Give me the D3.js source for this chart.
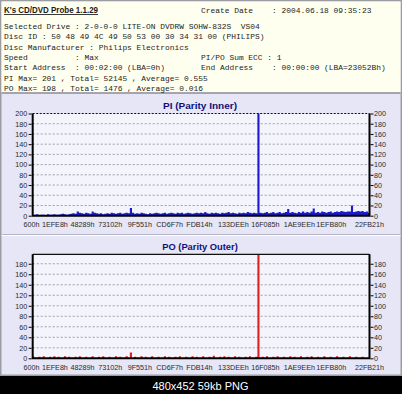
<!DOCTYPE html>
<html>
<head>
<meta charset="utf-8">
<script src="https://cdn.jsdelivr.net/npm/d3@7"></script>
<style>
  body { margin: 0; background: #000; }
  svg { display: block; }
  text.mono { font-family: "Liberation Mono", "Courier New", monospace; font-size: 7.9px; fill: #1c1c1c; white-space: pre; }
  .tick text { font-family: "Liberation Sans", Arial, sans-serif; font-size: 7.2px; fill: #2a2a2a; }
</style>
</head>
<body>
<div id="drawing_region"></div>
<script>
// header info lines (monospace, as in the probe window)
const headerLeft = [
    "Selected Drive : 2-0-0-0 LITE-ON DVDRW SOHW-832S  VS04",
    "Disc ID : 50 48 49 4C 49 50 53 00 30 34 31 00 (PHILIPS)",
    "Disc Manufacturer : Philips Electronics",
    "Speed          : Max",
    "Start Address  : 00:02:00 (LBA=0h)",
    "PI Max= 201 , Total= 52145 , Average= 0.555",
    "PO Max= 198 , Total= 1476 , Average= 0.016"
];
const headerRight = [
    "Create Date    : 2004.06.18 09:35:23",
    "", "", "",
    "PI/PO Sum ECC : 1",
    "End Address    : 00:00:00 (LBA=23052Bh)"
];

// x axis: address labels and the sample index where each one sits
const xTickLabels = ["600h","1EFE8h","48289h","73102h","9F551h","CD6F7h","FDB14h","133DEEh","16F085h","1AE9EEh","1EFB80h","22FB21h"];
const xTickSamples = [0, 11, 24, 37, 51, 65, 79, 95, 110, 126, 141, 159];

const piTicks = [0, 20, 40, 60, 80, 100, 120, 140, 160, 180, 200];
const poTicks = [0, 20, 40, 60, 80, 100, 120, 140, 160, 180];
const piScaleMax = 200;
const poScaleMax = 198;

// PI per sample
const piValues = [
    2,1,2,3,1,2,2,1,3,2,
    2,3,2,2,3,4,3,2,3,4,
    5,4,8,6,5,4,6,5,4,8,
    6,5,4,5,3,4,5,4,6,5,
    4,5,6,4,5,6,5,15,6,4,
    5,4,6,5,4,3,5,4,5,6,
    5,4,5,6,4,5,6,5,4,6,
    5,6,4,5,6,5,4,5,6,5,
    6,5,7,5,4,6,5,6,5,4,
    6,5,6,7,5,6,5,4,6,5,
    6,5,7,6,5,6,5,201,6,5,
    6,7,5,6,7,5,6,7,5,6,
    7,13,6,7,6,5,7,6,8,6,
    7,6,8,14,6,7,6,8,7,6,
    7,8,6,7,8,7,9,8,7,8,
    8,20,7,8,9,8,9,7,8,6
];

// PO per sample
const poValues = [
    0,4,0,0,3,0,4,0,0,3,
    0,4,0,3,0,0,4,0,3,0,
    0,3,0,4,0,0,3,0,0,4,
    0,0,3,0,4,0,0,3,0,0,
    4,0,3,0,0,4,0,11,0,3,
    0,0,4,0,3,0,0,4,0,0,
    3,0,0,4,0,3,0,0,3,0,
    4,0,0,3,0,0,4,0,3,0,
    0,4,0,0,3,0,5,0,0,3,
    0,4,0,3,0,0,4,0,3,0,
    0,3,0,4,0,0,3,198,0,3,
    0,4,0,0,3,0,4,0,0,3,
    0,0,4,0,3,0,0,4,0,0,
    3,0,4,0,0,3,0,0,4,0,
    0,3,0,0,4,0,0,3,0,0,
    4,0,0,3,0,0,3,0,0,0
];

const W = 402, H = 394;

const svg = d3.select('#drawing_region')
    .append('svg')
    .attr('width', W)
    .attr('height', H);

// black band + caption below the screenshot
svg.append('rect').attr('width', W).attr('height', H).attr('fill', '#000');
svg.append('text')
    .attr('x', 200.5).attr('y', 389.5)
    .attr('text-anchor', 'middle')
    .attr('fill', '#fff')
    .style('font-family', '"Liberation Sans", Arial, sans-serif')
    .style('font-size', '11px')
    .text('480x452 59kb PNG');

// window frame
svg.append('rect').attr('x', 0).attr('y', 0).attr('width', W).attr('height', 376).attr('fill', '#9c9ca4');
svg.append('rect').attr('x', 1.5).attr('y', 1.5).attr('width', W - 3).attr('height', 373).attr('fill', '#e6e6f6');

// header panel
svg.append('rect').attr('x', 1.5).attr('y', 1.5).attr('width', W - 3).attr('height', 91).attr('fill', '#fffff0');
svg.append('line').attr('x1', 1.5).attr('x2', W - 1.5).attr('y1', 93).attr('y2', 93)
    .attr('stroke', '#8c8c94').attr('stroke-width', 1.5);

svg.append('text')
    .attr('x', 4).attr('y', 13)
    .attr('textLength', 94).attr('lengthAdjust', 'spacingAndGlyphs')
    .attr('fill', '#1a1a1a')
    .style('font-family', '"Liberation Sans", Arial, sans-serif')
    .style('font-size', '8.6px')
    .style('font-weight', 'bold')
    .style('text-decoration', 'underline')
    .text("K's CD/DVD Probe 1.1.29");

const rowY = d3.scaleLinear().domain([0, 1]).range([29, 39.3]);

svg.append('text').attr('class', 'mono').attr('x', 201).attr('y', 13).text(headerRight[0]);
svg.selectAll('text.left')
    .data(headerLeft)
    .join('text')
    .attr('class', 'mono left')
    .attr('x', 4)
    .attr('y', (d, i) => rowY(i))
    .text(d => d);
svg.selectAll('text.right')
    .data(headerRight.slice(1))
    .join('text')
    .attr('class', 'mono right')
    .attr('x', 201)
    .attr('y', (d, i) => rowY(i))
    .text(d => d);

// separator between the two graph panels
svg.append('line').attr('x1', 1.5).attr('x2', W - 1.5).attr('y1', 234.5).attr('y2', 234.5).attr('stroke', '#b4b4c4');
svg.append('line').attr('x1', 1.5).attr('x2', W - 1.5).attr('y1', 235.5).attr('y2', 235.5).attr('stroke', '#fff');

class ProbeChart {

    constructor( config, values ) {
        this.config = config;
        this.values = values;
        this.init();
    }

    init() {
        let self = this;
        const c = self.config;

        self.chart = svg.append('g');

        self.left = 32.7;
        self.right = 369.5;
        self.bottom = c.top + c.height;

        // first sample sits just behind the left frame
        self.xscale = d3.scaleLinear()
            .domain([0, self.values.length - 1])
            .range([31, 369]);

        self.yscale = d3.scaleLinear()
            .domain([0, c.ymax])
            .range([self.bottom, c.top]);

        self.chart.append('clipPath')
            .attr('id', c.id + '_clip')
            .append('rect')
            .attr('x', self.left).attr('y', c.top)
            .attr('width', self.right - self.left)
            .attr('height', c.height);
    }

    render() {
        let self = this;
        const c = self.config;

        // title
        self.chart.append('text')
            .attr('x', 200).attr('y', c.titleY)
            .attr('text-anchor', 'middle')
            .attr('textLength', c.titleWidth).attr('lengthAdjust', 'spacingAndGlyphs')
            .attr('fill', '#10107a')
            .style('font-family', '"Liberation Sans", Arial, sans-serif')
            .style('font-size', '8.8px')
            .style('font-weight', 'bold')
            .text(c.title);

        // plot background
        self.chart.append('rect')
            .attr('x', self.left).attr('y', c.top)
            .attr('width', self.right - self.left)
            .attr('height', c.height)
            .attr('fill', '#f4f4fd');

        // grid
        self.chart.selectAll('line.grid')
            .data(c.yticks.filter(d => d > 0 && d < c.ymax))
            .join('line')
            .attr('class', 'grid')
            .attr('x1', self.left).attr('x2', self.right)
            .attr('y1', d => self.yscale(d)).attr('y2', d => self.yscale(d))
            .attr('stroke', '#8a8a8a')
            .attr('stroke-width', 0.8)
            .attr('stroke-dasharray', '2,2');

        // series as a stepped area, one step per sample
        const area = d3.area()
            .x((d, i) => self.xscale(i))
            .y0(self.yscale(0))
            .y1(d => self.yscale(d))
            .curve(d3.curveStep);

        self.chart.append('path')
            .datum(self.values)
            .attr('clip-path', `url(#${c.id}_clip)`)
            .attr('d', area)
            .attr('fill', c.color);

        // frame
        self.chart.append('line')
            .attr('x1', self.left).attr('x2', self.right)
            .attr('y1', c.top).attr('y2', c.top)
            .attr('stroke', '#111')
            .attr('stroke-width', 1.2)
            .attr('stroke-dasharray', c.topDash);
        self.chart.append('path')
            .attr('d', `M${self.left},${c.top}V${self.bottom}H${self.right}V${c.top}`)
            .attr('fill', 'none')
            .attr('stroke', '#000')
            .attr('stroke-width', 2);

        // y axes on both sides
        const yl = d3.axisLeft(self.yscale).tickValues(c.yticks).tickSize(3).tickPadding(1.5);
        const yr = d3.axisRight(self.yscale).tickValues(c.yticks).tickSize(3).tickPadding(0.5);

        self.chart.append('g')
            .attr('transform', `translate(${self.left - 1}, 0)`)
            .call(yl)
            .call(g => g.select('.domain').remove());
        self.chart.append('g')
            .attr('transform', `translate(${self.right + 1}, 0)`)
            .call(yr)
            .call(g => g.select('.domain').remove());

        // x axis with address labels
        const xa = d3.axisBottom(self.xscale)
            .tickValues(xTickSamples)
            .tickFormat((d, i) => xTickLabels[i])
            .tickSize(0)
            .tickPadding(6.5);

        self.chart.append('g')
            .attr('transform', `translate(0, ${self.bottom})`)
            .call(xa)
            .call(g => g.select('.domain').remove());
    }
}

const piChart = new ProbeChart({
    id: 'pi', title: 'PI (Parity Inner)', titleY: 108.5, titleWidth: 74,
    top: 113.5, height: 102.2, ymax: piScaleMax, yticks: piTicks,
    color: '#1a1ad0', topDash: '2,1.5'
}, piValues);
piChart.render();

const poChart = new ProbeChart({
    id: 'po', title: 'PO (Parity Outer)', titleY: 249.5, titleWidth: 75.5,
    top: 254.3, height: 104, ymax: poScaleMax, yticks: poTicks,
    color: '#e02020', topDash: null
}, poValues);
poChart.render();
</script>
</body>
</html>
